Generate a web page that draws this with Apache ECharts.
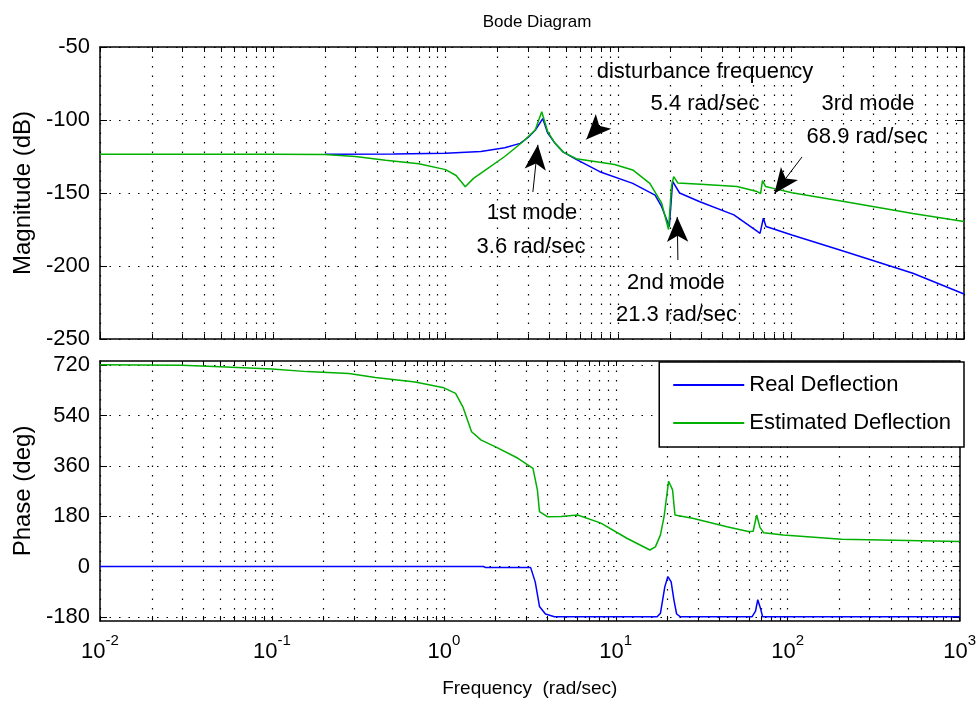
<!DOCTYPE html>
<html>
<head>
<meta charset="utf-8">
<title>Bode Diagram</title>
<script src="https://cdn.jsdelivr.net/npm/echarts@6/dist/echarts.min.js"></script>
<style>
  html, body { margin: 0; padding: 0; background: #fff; }
  #main { width: 979px; height: 704px; }
</style>
</head>
<body>
<div id="main"></div>
<script>
// magnitude, real deflection (blue)
var magRealF = [0.2, 0.5, 1.0, 1.6, 2.2, 2.7, 3.0, 3.3, 3.65, 3.9, 4.3, 4.8, 5.7, 7.8, 12.1, 16.3, 17.8, 19.7, 20.6, 22.6, 29.6, 46.6, 64, 66, 69, 71.5, 101, 206, 506, 1000];
var magRealV = [-123.5, -123.3, -122.7, -121.5, -119, -116, -112, -107, -99, -109, -116, -122, -127, -135.4, -143.4, -151.4, -159.4, -173, -142, -150, -156, -165, -176.5, -177.6, -167.3, -173, -178.8, -190.2, -205, -219.2];

// magnitude, estimated deflection (green)
var magEstF = [0.01, 0.1, 0.2, 0.3, 0.45, 0.7, 1.0, 1.15, 1.3, 1.45, 1.65, 2.2, 2.8, 3.3, 3.6, 3.9, 4.3, 4.8, 5.7, 7.8, 9.5, 12.1, 15.2, 17.8, 19.5, 20.3, 20.9, 22.1, 30, 48.6, 63.4, 66.5, 68.2, 71, 80, 101, 206, 506, 1000];
var magEstV = [-123.5, -123.5, -123.6, -125, -127.5, -130, -134, -138, -145.7, -140, -135.4, -125, -114.9, -106.8, -94.3, -108, -116, -122, -126.5, -129, -130.5, -134.2, -143.4, -157, -175, -145, -138.8, -143.2, -144, -145.5, -149, -150.5, -141.5, -145.5, -147, -149.8, -156, -164, -169.5];

// phase, real deflection (blue)
var phRealF = [0.01, 1.7, 1.75, 3.2, 3.4, 3.6, 3.9, 4.4, 17.4, 18.2, 19.3, 20.1, 21, 21.8, 22.6, 23.8, 62, 65, 67, 69.5, 71.5, 1000];
var phRealV = [0, 0, -4, -4, -55, -143, -170, -180, -180, -167, -72, -36, -55, -120, -170, -180, -180, -160, -119, -150, -180, -180];

// phase, estimated deflection (green)
var phEstF = [0.01, 0.03, 0.05, 0.1, 0.16, 0.28, 0.4, 0.68, 1.0, 1.17, 1.29, 1.45, 1.65, 2.0, 2.7, 3.3, 3.5, 3.6, 4.0, 4.8, 6.0, 8.2, 11.6, 15.8, 17.0, 18.2, 19.1, 20.3, 21.4, 22.1, 28.4, 44.3, 59, 63, 66, 67.5, 69, 72.4, 94.3, 206, 1000];
var phEstV = [722, 720, 714, 706, 697, 690, 676, 660, 639, 619, 571, 482, 452, 428, 387, 351, 274, 196, 178, 179, 184, 155, 101, 59, 70, 113, 178, 305, 274, 184, 172, 142, 125, 126, 184, 178, 140, 121, 113, 97, 89];

var freqMajor = [0.01, 0.1, 1, 10, 100, 1000];
var magTicks = [-250, -200, -150, -100, -50];
var phaseTicks = [-180, 0, 180, 360, 540, 720];

// annotation texts, placed in (rad/sec, dB)
var noteText = ['disturbance frequency', '5.4 rad/sec', '3rd mode', '68.9 rad/sec', '1st mode', '3.6 rad/sec', '2nd mode', '21.3 rad/sec'];
var noteF = [31.7, 31.7, 278, 275, 3.16, 3.12, 21.5, 21.7];
var noteDb = [-67, -89, -89, -111.6, -163.7, -187, -211.6, -233.6];
// arrows: tail -> head
var arrowFrom = [[3.2, -149.3], [7.83, -103.4], [22.1, -195.9], [115.5, -125.3]];
var arrowTo = [[3.42, -117], [6.52, -113.3], [21.9, -166.4], [79.9, -150.3]];

function pairs(f, v) {
    return f.map(function (x, i) { return [x, v[i]]; });
}

// all ticks: 1..9 per decade
var freqAll = [];
for (var d = -2; d < 3; d++) {
    for (var k = 1; k < 10; k++) freqAll.push(+(k * Math.pow(10, d)).toPrecision(3));
}
freqAll.push(1000);

var BLUE = '#0000ff', GREEN = '#00b000';
var FONT = 'Liberation Sans';
var gridDot = { show: true, lineStyle: { color: '#000', width: 1.2, type: [1.5, 8] } };

function xAx(grid, pos, labels, name) {
    return {
        type: 'log', logBase: 10, gridIndex: grid, position: pos,
        min: 0.01, max: 1000,
        name: name || '', nameLocation: 'middle', nameGap: 58,
        nameTextStyle: { fontFamily: FONT, fontSize: 19, color: '#000' },
        axisLine: { show: true, onZero: false, lineStyle: { color: '#000', width: 1.5 } },
        axisTick: { show: true, inside: true, length: 5, customValues: freqAll, lineStyle: { color: '#000', width: 1 } },
        splitLine: pos === 'bottom' ? gridDot : { show: false },
        axisLabel: {
            show: labels, customValues: freqMajor, margin: 12,
            fontFamily: FONT, color: '#000',
            formatter: function (v) {
                return '{b|10}{s|' + Math.round(Math.log10(v)) + '}';
            },
            rich: {
                b: { fontFamily: FONT, fontSize: 22, lineHeight: 30, verticalAlign: 'bottom', color: '#000' },
                s: { fontFamily: FONT, fontSize: 15, lineHeight: 30, verticalAlign: 'top', color: '#000' }
            }
        }
    };
}

function yAx(grid, pos, min, max, ticks, name) {
    return {
        type: 'value', gridIndex: grid, position: pos,
        min: min, max: max,
        name: name || '', nameLocation: 'middle', nameGap: 62,
        nameTextStyle: { fontFamily: FONT, fontSize: 24, color: '#000' },
        axisLine: { show: true, onZero: false, lineStyle: { color: '#000', width: 1.5 } },
        axisTick: { show: true, inside: true, length: 7, customValues: ticks, lineStyle: { color: '#000', width: 1 } },
        splitLine: pos === 'left' ? gridDot : { show: false },
        axisLabel: {
            show: pos === 'left', customValues: ticks, margin: 10,
            fontFamily: FONT, fontSize: 22, color: '#000'
        }
    };
}

var chart = echarts.init(document.getElementById('main'));

var option = {
    animation: false,
    backgroundColor: '#fff',
    title: {
        text: 'Bode Diagram', left: 532, top: 9, textAlign: 'center',
        textStyle: { fontFamily: FONT, fontSize: 17, fontWeight: 'normal', color: '#000' }
    },
    legend: {
        right: 15, top: 362, orient: 'vertical',
        data: ['Real Deflection', 'Estimated Deflection'],
        icon: 'rect', itemWidth: 71, itemHeight: 2, itemGap: 16,
        padding: [12, 13, 13, 14],
        backgroundColor: '#fff', borderColor: '#000', borderWidth: 1.5, borderRadius: 0,
        textStyle: { fontFamily: FONT, fontSize: 22, lineHeight: 22, color: '#000' }
    },
    grid: [
        { left: 100, right: 15, top: 47, height: 292 },
        { left: 100, right: 15, top: 361, height: 260 }
    ],
    xAxis: [
        xAx(0, 'bottom', false),
        xAx(0, 'top', false),
        xAx(1, 'bottom', true, 'Frequency  (rad/sec)'),
        xAx(1, 'top', false)
    ],
    yAxis: [
        yAx(0, 'left', -250, -50, magTicks, 'Magnitude (dB)'),
        yAx(0, 'right', -250, -50, magTicks),
        yAx(1, 'left', -195, 735, phaseTicks, 'Phase (deg)'),
        yAx(1, 'right', -195, 735, phaseTicks)
    ],
    series: [
        {
            name: 'Real Deflection', type: 'line', xAxisIndex: 0, yAxisIndex: 0,
            data: pairs(magRealF, magRealV), symbol: 'none',
            lineStyle: { color: BLUE, width: 1.5 }, itemStyle: { color: BLUE }
        },
        {
            name: 'Estimated Deflection', type: 'line', xAxisIndex: 0, yAxisIndex: 0,
            data: pairs(magEstF, magEstV), symbol: 'none',
            lineStyle: { color: GREEN, width: 1.5 }, itemStyle: { color: GREEN }
        },
        {
            name: 'Real Deflection', type: 'line', xAxisIndex: 2, yAxisIndex: 2,
            data: pairs(phRealF, phRealV), symbol: 'none',
            lineStyle: { color: BLUE, width: 1.5 }, itemStyle: { color: BLUE }
        },
        {
            name: 'Estimated Deflection', type: 'line', xAxisIndex: 2, yAxisIndex: 2,
            data: pairs(phEstF, phEstV), symbol: 'none',
            lineStyle: { color: GREEN, width: 1.5 }, itemStyle: { color: GREEN }
        },
        {
            name: 'notes', type: 'scatter', xAxisIndex: 0, yAxisIndex: 0,
            silent: true, symbolSize: 1, itemStyle: { color: 'transparent', opacity: 1 },
            data: noteText.map(function (t, i) { return { name: t, value: [noteF[i], noteDb[i]] }; }),
            label: {
                show: true, position: 'inside', formatter: '{b}',
                fontFamily: FONT, fontSize: 22, color: '#000', opacity: 1
            },
            markLine: {
                silent: true, animation: false,
                symbol: ['none', 'arrow'], symbolSize: [16, 25],
                label: { show: false },
                lineStyle: { color: '#000', width: 1, type: 'solid', opacity: 1 },
                itemStyle: { color: '#000' },
                data: arrowFrom.map(function (a, i) {
                    return [{ coord: a }, { coord: arrowTo[i] }];
                })
            }
        }
    ]
};

chart.setOption(option);
</script>
</body>
</html>
